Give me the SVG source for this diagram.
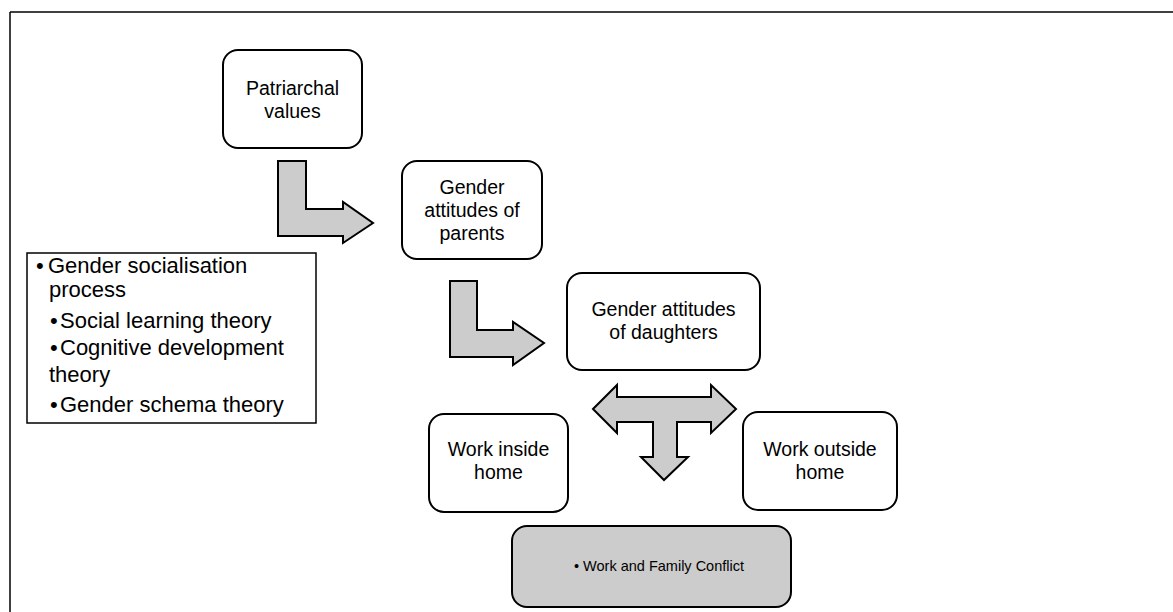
<svg xmlns="http://www.w3.org/2000/svg" width="1173" height="612" viewBox="0 0 1173 612">
<style>
.node{fill:#ffffff;stroke:#000000;stroke-width:2}
.grey{fill:#cccccc;stroke:#000000;stroke-width:2}
.arrow{fill:#cccccc;stroke:#000000;stroke-width:2;stroke-linejoin:miter}
.t{font-family:"Liberation Sans",Arial,sans-serif;font-size:19.5px;fill:#000000;text-anchor:middle}
.lt{font-family:"Liberation Sans",Arial,sans-serif;font-size:22px;fill:#000000}
.st{font-family:"Liberation Sans",Arial,sans-serif;font-size:14.5px;fill:#000000}
</style>
<rect width="1173" height="612" fill="#ffffff"/>
<g id="frame">
<line x1="10" y1="12" x2="1173" y2="12" stroke="#000" stroke-width="1.5"/>
<line x1="10" y1="12" x2="10" y2="612" stroke="#000" stroke-width="1.5"/>
</g>
<g id="connectors">
<path class="arrow" d="M278,161 L306,161 L306,209 L343,209 L343,202 L373,223 L343,243 L343,236 L278,236 Z"/>
<path class="arrow" d="M450,281 L477,281 L477,330 L513,330 L513,322 L544,343 L513,365 L513,357 L450,357 Z"/>
<path class="arrow" d="M593,409 L617,385 L617,397 L711,397 L711,385 L736,409 L711,433 L711,422 L677,422 L677,457 L688,457 L664,480 L641,457 L653,457 L653,422 L617,422 L617,433 Z"/>
</g>
<g id="patriarchal">
<rect class="node" x="223" y="50" width="139" height="98" rx="15"/>
<text class="t" x="292.5" y="95">Patriarchal</text>
<text class="t" x="292.5" y="118">values</text>
</g>
<g id="parents">
<rect class="node" x="402" y="161" width="140" height="98" rx="15"/>
<text class="t" x="472" y="194">Gender</text>
<text class="t" x="472" y="217">attitudes of</text>
<text class="t" x="472" y="240">parents</text>
</g>
<g id="theories">
<rect x="27" y="253" width="289" height="170" fill="#ffffff" stroke="#000" stroke-width="1.5"/>
<text class="lt" x="36" y="273">•</text><text class="lt" x="48" y="273">Gender socialisation</text>
<text class="lt" x="49" y="297">process</text>
<text class="lt" x="50" y="328">•</text><text class="lt" x="60" y="328">Social learning theory</text>
<text class="lt" x="50" y="355">•</text><text class="lt" x="60" y="355">Cognitive development</text>
<text class="lt" x="49" y="382">theory</text>
<text class="lt" x="50" y="412">•</text><text class="lt" x="60" y="412">Gender schema theory</text>
</g>
<g id="daughters">
<rect class="node" x="567" y="273" width="193" height="97" rx="15"/>
<text class="t" x="663.5" y="316">Gender attitudes</text>
<text class="t" x="663.5" y="339">of daughters</text>
</g>
<g id="inside">
<rect class="node" x="429" y="414" width="139" height="98" rx="15"/>
<text class="t" x="498.5" y="456">Work inside</text>
<text class="t" x="498.5" y="479">home</text>
</g>
<g id="outside">
<rect class="node" x="743" y="412" width="154" height="98" rx="15"/>
<text class="t" x="820" y="456">Work outside</text>
<text class="t" x="820" y="479">home</text>
</g>
<g id="conflict">
<rect class="grey" x="512" y="526" width="279" height="81" rx="15"/>
<text class="st" x="574" y="571">• Work and Family Conflict</text>
</g>
</svg>
